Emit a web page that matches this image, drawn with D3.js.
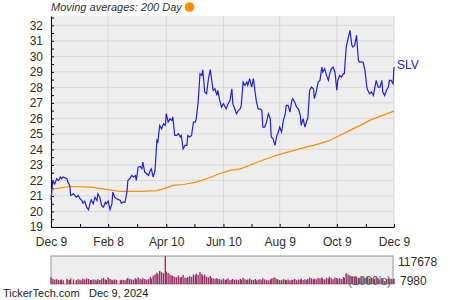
<!DOCTYPE html>
<html>
<head>
<meta charset="utf-8">
<script src="https://cdn.jsdelivr.net/npm/d3@7"></script>
<style>
body{margin:0;background:#fff;}
text{font-family:"Liberation Sans",Arial,sans-serif;}
</style>
</head>
<body>
<svg width="450" height="300"></svg>
<script>
// days after Dec 9, 2023
var dayOffsets=[0,2,4,6,8,10,11,13,17,18,
20,21,24,27,29,31,33,34,36,38,
40,42,43,45,47,49,50,52,54,56,
58,59,61,63,65,66,68,70,74,75,
77,79,81,82,84,86,88,90,91,93,
95,97,98,100,102,104,106,107,109,111,
113,114,116,118,120,122,123,125,127,129,
130,132,134,136,138,139,141,143,145,146,
148,150,152,154,155,157,159,161,162,164,
166,168,170,171,173,175,177,178,
180,182,184,186,187,189,191,193,194,196,
198,200,202,203,205,207,209,210,212,214,
216,218,219,221,223,225,226,228,230,232,
234,235,237,239,241,242,244,246,248,250,
251,253,255,257,258,260,262,264,266,267,
269,271,273,274,276,278,280,281,283,285,
287,289,290,292,294,296,297,299,301,303,
305,306,308,310,312,313,315,317,319,321,
322,324,326,328,329,331,333,335,337,338,
340,342,344,345,347,349,351,353,354,356,
358,360,361,363,365,366];

var prices=[20.75,21.96,21.78,22.11,22.00,22.22,22.11,22.22,22.11,21.89,
21.68,21.03,21.14,20.92,21.03,20.82,20.71,20.54,20.67,20.28,
20.11,20.60,20.75,20.49,20.92,20.71,21.14,20.92,20.39,20.28,
20.60,20.49,20.67,20.11,20.49,21.25,20.92,20.82,20.71,20.54,
20.60,20.60,21.25,22.00,22.11,22.32,22.22,22.32,22.00,22.86,
22.90,22.75,23.18,22.54,22.43,22.32,22.65,22.75,22.22,22.65,
24.58,24.47,25.55,25.33,25.66,25.55,26.30,25.76,25.98,25.87,
26.09,24.90,24.90,25.01,24.80,24.90,24.04,24.26,24.26,24.90,
24.80,24.90,25.76,25.76,25.98,27.05,28.88,28.77,29.14,27.70,
27.59,28.56,29.14,28.67,27.81,27.91,27.48,27.81,
27.16,26.73,26.95,26.73,26.62,26.95,27.16,27.91,26.95,26.62,
26.30,26.52,26.62,26.84,28.34,28.13,28.34,28.13,28.56,28.02,
28.56,27.59,27.16,26.62,26.62,26.52,25.44,25.44,25.76,26.30,
25.98,24.80,24.69,24.26,24.90,25.01,25.44,25.12,25.87,26.30,
26.84,26.84,26.41,27.16,27.27,27.05,26.73,26.62,26.19,25.55,
25.98,25.44,25.87,25.98,27.81,28.02,27.91,27.27,27.70,28.34,
28.45,29.31,28.99,29.20,28.77,28.45,28.77,29.20,29.31,28.99,
27.81,28.45,28.77,28.67,28.88,28.88,30.60,31.14,31.68,30.71,
30.60,30.71,31.35,29.74,29.63,29.63,29.63,29.10,28.02,27.81,
27.59,27.70,27.48,27.81,28.45,28.02,28.02,28.45,27.70,27.48,
27.81,28.02,28.45,28.45,28.24,29.31];

// volume in 1000's, same days as prices
var volumes=[28000,22000,18000,20000,17000,15000,19000,16000,21000,18000,
17000,23000,19000,16000,20000,18000,15000,22000,19000,24000,
21000,17000,16000,19000,18000,15000,20000,17000,22000,25000,
19000,17000,27000,21000,18000,16000,19000,17000,15000,18000,
17000,16000,22000,26000,21000,19000,18000,24000,20000,27000,
22000,19000,25000,21000,18000,20000,30000,23000,35000,40000,
48000,42000,55000,50000,45000,117678,52000,46000,40000,36000,
34000,30000,28000,36000,26000,30000,38000,27000,25000,29000,
33000,30000,40000,36000,44000,38000,50000,42000,35000,39000,
30000,28000,34000,26000,24000,22000,25000,21000,
20000,18000,23000,17000,19000,24000,16000,18000,21000,17000,
19000,16000,22000,18000,26000,20000,17000,19000,23000,18000,
17000,21000,15000,18000,20000,16000,24000,19000,17000,15000,
18000,23000,26000,28000,21000,19000,17000,16000,20000,18000,
16000,19000,15000,18000,17000,21000,16000,19000,18000,22000,
17000,20000,18000,21000,27000,24000,19000,22000,20000,25000,
23000,28000,21000,19000,26000,22000,30000,24000,20000,27000,
25000,22000,24000,21000,29000,26000,45000,40000,36000,30000,
32000,28000,30000,26000,24000,27000,29000,25000,31000,27000,
22000,26000,24000,21000,28000,23000,20000,25000,22000,7980,
21000,24000,18000,22000,20000,23000];

// 200 day moving average
var maDays=[0,20,42,59,74,95,113,120,130,141,155,166,180,191,202,216,230,244,265,287,297,308,319,330,340,351,366];
var maValues=[21.42,21.61,21.57,21.42,21.29,21.29,21.35,21.46,21.68,21.74,21.89,22.11,22.43,22.65,22.75,23.08,23.40,23.68,24.04,24.37,24.58,24.90,25.23,25.55,25.87,26.13,26.47];

var yTicks=[19,20,21,22,23,24,25,26,27,28,29,30,31,32];
var yMinorTicks=[19.5,20.5,21.5,22.5,23.5,24.5,25.5,26.5,27.5,28.5,29.5,30.5,31.5,32.5];
var xLabels=["Dec 9","Feb 8","Apr 10","Jun 10","Aug 9","Oct 9","Dec 9"];
var xLabelDates=["2023-12-09","2024-02-08","2024-04-10","2024-06-10","2024-08-09","2024-10-09","2024-12-09"];
var xMinorDates=["2024-01-09","2024-03-10","2024-05-10","2024-07-10","2024-09-09","2024-11-09"];
var volumeLabels=["117678","7980"];

var parseDate=d3.timeParse("%Y-%m-%d");
var startDate=parseDate("2023-12-09");
var endDate=parseDate("2024-12-09");

var plotLeft=51, plotRight=394, plotTop=16, plotBottom=227;
var volTop=256, volBottom=284;

var svg=d3.select("svg");

var x=d3.scaleTime().domain([startDate,endDate]).range([plotLeft,plotRight]);
var y=d3.scaleLinear().domain([19,32.6]).range([plotBottom,plotTop]);
var yVol=d3.scaleLinear().domain([0,117678]).range([volBottom,volTop]);

function dayToDate(d){ return d3.timeDay.offset(startDate,d); }

//plot background
svg.append("rect")
    .attr("x",plotLeft).attr("y",plotTop)
    .attr("width",plotRight-plotLeft).attr("height",plotBottom-plotTop)
    .style("fill","#eeeeee");

//grid
svg.append("g").selectAll("line.hgrid")
    .data(yTicks)
    .enter()
    .append("line")
    .attr("x1",plotLeft).attr("x2",plotRight)
    .attr("y1",function(d){return y(d);}).attr("y2",function(d){return y(d);})
    .attr("stroke","#d9d9d9");

svg.append("g").selectAll("line.vgrid")
    .data(xLabelDates)
    .enter()
    .append("line")
    .attr("x1",function(d){return x(parseDate(d));}).attr("x2",function(d){return x(parseDate(d));})
    .attr("y1",plotTop).attr("y2",plotBottom)
    .attr("stroke","#d9d9d9");

//y axis, ticks inside
var yAxis=d3.axisLeft(y)
    .tickValues(yTicks.concat(yMinorTicks))
    .tickSizeInner(-3)
    .tickSizeOuter(0)
    .tickPadding(8)
    .tickFormat(function(d){ return yTicks.indexOf(d)>=0 ? d : ""; });

var gy=svg.append("g")
    .attr("transform","translate("+plotLeft+",0)")
    .call(yAxis);
gy.select(".domain").attr("stroke","#000");
gy.selectAll("line").attr("stroke","#000");
gy.selectAll("text").style("font-size","12px").style("fill","#332e22").style("font-family","'Liberation Sans',Arial,sans-serif");

//x axis
var xAxis=d3.axisBottom(x)
    .tickValues(xLabelDates.concat(xMinorDates).map(parseDate))
    .tickSizeInner(-3)
    .tickSizeOuter(0)
    .tickPadding(10)
    .tickFormat(function(d){
        var i=xLabelDates.map(function(s){return parseDate(s).getTime();}).indexOf(d.getTime());
        return i>=0 ? xLabels[i] : "";
    });

var gx=svg.append("g")
    .attr("transform","translate(0,"+plotBottom+")")
    .call(xAxis);
gx.select(".domain").attr("stroke","#000");
gx.selectAll("line").attr("stroke","#000");
gx.selectAll("text").style("font-size","12px").style("fill","#332e22").style("font-family","'Liberation Sans',Arial,sans-serif");

//moving average
var maLine=d3.line()
    .x(function(d,i){return x(dayToDate(maDays[i]));})
    .y(function(d){return y(d);});

svg.append("path")
    .datum(maValues)
    .attr("d",maLine)
    .attr("fill","none")
    .attr("stroke","#ff8c00")
    .attr("stroke-width",1.2);

//price line
var priceLine=d3.line()
    .x(function(d,i){return x(dayToDate(dayOffsets[i]));})
    .y(function(d){return y(d);});

svg.append("path")
    .datum(prices)
    .attr("d",priceLine)
    .attr("fill","none")
    .attr("stroke","#2121dd")
    .attr("stroke-width",1.2);

svg.append("text")
    .attr("x",397).attr("y",69)
    .text("SLV")
    .style("font-size","12px")
    .style("fill","#2121dd");

//legend
svg.append("text")
    .attr("x",51).attr("y",11)
    .text("Moving averages: 200 Day")
    .style("font-size","11px")
    .style("font-style","italic")
    .style("fill","#333");

svg.append("circle")
    .attr("cx",189.5).attr("cy",7)
    .attr("r",4.8)
    .style("fill","#ff8c00");

//volume panel
svg.append("rect")
    .attr("x",plotLeft).attr("y",volTop)
    .attr("width",plotRight-plotLeft-1).attr("height",volBottom-volTop)
    .style("fill","#eeeeee")
    .attr("stroke","#999");

svg.append("g").selectAll("rect.vol")
    .data(volumes)
    .enter()
    .append("rect")
    .attr("class","vol")
    .attr("x",function(d,i){return x(dayToDate(dayOffsets[i]))-0.7;})
    .attr("y",function(d){return yVol(d);})
    .attr("width",1.4)
    .attr("height",function(d){return volBottom-yVol(d);})
    .style("fill","#993366");

svg.append("text")
    .attr("x",348).attr("y",285)
    .text("(1000's)")
    .style("font-size","12px")
    .style("fill","#4a7563");

svg.append("text")
    .attr("x",398).attr("y",266)
    .text(volumeLabels[0])
    .style("font-size","12px")
    .style("fill","#332e22");

svg.append("text")
    .attr("x",400).attr("y",285)
    .text(volumeLabels[1])
    .style("font-size","12px")
    .style("fill","#332e22");

//footer
svg.append("text")
    .attr("x",3).attr("y",297)
    .text("TickerTech.com")
    .style("font-size","11px")
    .style("fill","#222");

svg.append("text")
    .attr("x",89).attr("y",297)
    .text("Dec 9, 2024")
    .style("font-size","11px")
    .style("fill","#222");
</script>
</body>
</html>
